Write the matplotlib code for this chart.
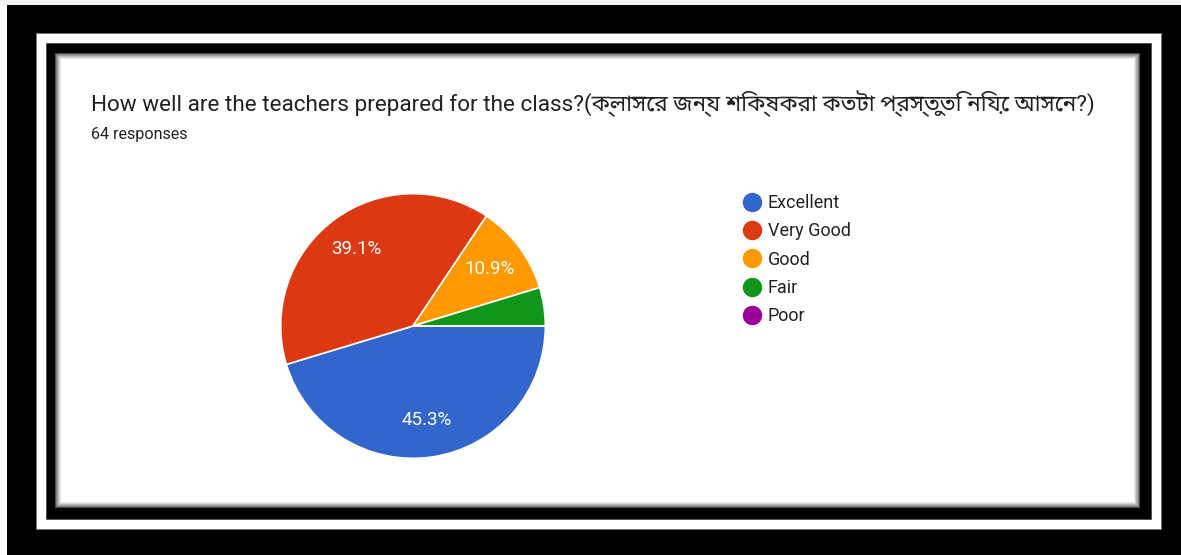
import matplotlib
matplotlib.use("Agg")
import matplotlib.pyplot as plt
from matplotlib import font_manager as fm
from matplotlib.patches import Rectangle
from matplotlib.lines import Line2D

# ---- data ----
categories = ["Excellent", "Very Good", "Good", "Fair", "Poor"]
counts = [29, 25, 7, 3, 0]
colors = ["#3366cc", "#dc3912", "#ff9900", "#109618", "#990099"]
title = "How well are the teachers prepared for the class?(ক্লাসের জন্য শিক্ষকরা কতটা প্রস্তুতি নিয়ে আসেন?)"
subtitle = "64 responses"

avail = {f.name for f in fm.fontManager.ttflist}
beng = [n for n in avail if "Bengali" in n]
fam = ["Roboto"] + beng + ["DejaVu Sans"]
plt.rcParams["font.family"] = fam

W, H = 1181, 555
fig = plt.figure(figsize=(W / 100, H / 100), dpi=100)
fig.patch.set_facecolor("white")

bg = fig.add_axes([0, 0, 1, 1])
bg.set_xlim(0, W)
bg.set_ylim(H, 0)
bg.axis("off")

def rect(x0, y0, x1, y1, **kw):
    bg.add_patch(Rectangle((x0, y0), x1 - x0, y1 - y0, **kw))

rect(0, 0, W, 5, facecolor="#f4f4f4", edgecolor="none")
rect(7, 5, W, H, facecolor="black", edgecolor="none")
rect(36, 33, 1161, 529, facecolor="white", edgecolor="#777777", linewidth=0.7)
rect(46, 43, 1151, 519, facecolor="black", edgecolor="#555555", linewidth=0.7)
# content with soft inner shadow
steps = 7
for i in range(steps):
    g = 0.3 + 0.7 * (i / (steps - 1)) ** 0.7
    rect(55 + i, 53 + i, 1140 - i, 508 - i, facecolor=(g, g, g), edgecolor="none")
rect(55 + steps, 53 + steps, 1140 - steps, 508 - steps, facecolor="white", edgecolor="none")

bg.text(91, 104, title, fontsize=16.2, color="#222222", va="center", ha="left")
bg.text(91, 134, subtitle, fontsize=11.6, color="#222222", va="center", ha="left")

# ---- pie ----
cx, cy, r = 413, 326, 133
ax = fig.add_axes([(cx - r) / W, (H - cy - r) / H, 2 * r / W, 2 * r / H])

def pct(p):
    return f"{p:.1f}%" if p >= 5 else ""

wedges, texts, autotexts = ax.pie(
    counts, colors=colors, startangle=0, counterclock=False,
    autopct=pct, pctdistance=0.72,
    wedgeprops=dict(edgecolor="white", linewidth=1.2),
    textprops=dict(color="white", fontsize=13.5),
)
ax.set_xlim(-1.005, 1.005)
ax.set_ylim(-1.005, 1.005)
ax.set_aspect("equal")

handles = [Line2D([0], [0], marker="o", linestyle="none", markersize=13,
                  markerfacecolor=c, markeredgecolor=c) for c in colors]
leg = bg.legend(handles, categories, loc="upper left",
                bbox_to_anchor=(743 / W, 1 - 194 / H), bbox_transform=fig.transFigure,
                frameon=False, fontsize=13, handlelength=1.0, handletextpad=0.38,
                labelspacing=0.57, borderpad=0, borderaxespad=0)
for t in leg.get_texts():
    t.set_color("#222222")

fig.savefig("out.png", dpi=100)
